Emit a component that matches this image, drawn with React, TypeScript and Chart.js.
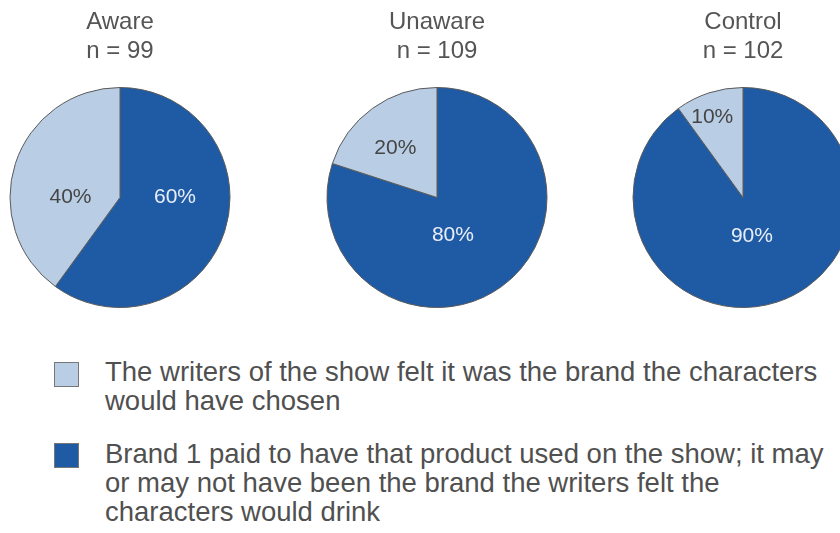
import React, { useEffect, useRef } from "react";
import { Chart, registerables } from "chart.js";

Chart.register(...registerables);

// ---- data ----
const groups = ["Aware", "Unaware", "Control"];
const sampleSizes = ["n = 99", "n = 109", "n = 102"];
// order: [paid placement (dark), writers' choice (light)]
const paidPct = [60, 80, 90];
const writersPct = [40, 20, 10];
const legendLabels = [
  ["The writers of the show felt it was the brand the characters", "would have chosen"],
  [
    "Brand 1 paid to have that product used on the show; it may",
    "or may not have been the brand the writers felt the",
    "characters would drink",
  ],
];

const DARK = "#1f5ba5";
const LIGHT = "#b9cee5";
const FONT = "'Liberation Sans', Arial, Helvetica, sans-serif";

// label placement (fraction of radius, angle shift in degrees) per chart: [dark, light]
const labelPlacement = [
  { frac: [0.5, 0.45], shift: [-18, -18] },
  { frac: [0.37, 0.59], shift: [13, -4] },
  { frac: [0.36, 0.78], shift: [5, -3] },
];

const pctLabelPlugin = {
  id: "pctLabels",
  afterDatasetsDraw(chart: any, _args: any, opts: any) {
    const ctx = chart.ctx;
    const meta = chart.getDatasetMeta(0);
    const ds = chart.data.datasets[0];
    ctx.save();
    ctx.font = `21px ${FONT}`;
    ctx.textAlign = "center";
    ctx.textBaseline = "middle";
    meta.data.forEach((arc: any, i: number) => {
      const { x, y, startAngle, endAngle, outerRadius } = arc.getProps(
        ["x", "y", "startAngle", "endAngle", "outerRadius"],
        true
      );
      const mid = (startAngle + endAngle) / 2 + (opts.shift[i] * Math.PI) / 180;
      const r = outerRadius * opts.frac[i];
      ctx.fillStyle = i === 0 ? "#e8eef8" : "#454545";
      ctx.fillText(ds.data[i] + "%", x + Math.cos(mid) * r, y + Math.sin(mid) * r);
    });
    ctx.restore();
  },
};

function PieBox({ idx, left }: { idx: number; left: number }) {
  const ref = useRef<HTMLCanvasElement>(null);
  useEffect(() => {
    const chart = new Chart(ref.current as HTMLCanvasElement, {
      type: "pie",
      data: {
        labels: ["Paid", "Writers"],
        datasets: [
          {
            data: [paidPct[idx], writersPct[idx]],
            backgroundColor: [DARK, LIGHT],
            borderColor: "#5a5a5a",
            borderWidth: 1,
          },
        ],
      },
      options: {
        responsive: false,
        animation: false,
        layout: { padding: 0 },
        plugins: {
          legend: { display: false },
          tooltip: { enabled: false },
          title: {
            display: true,
            text: [groups[idx], sampleSizes[idx]],
            color: "#555555",
            font: { family: FONT, size: 24, weight: "normal", lineHeight: 29 / 24 },
            padding: { top: 8, bottom: 21 },
          },
          pctLabels: labelPlacement[idx],
        } as any,
      },
      plugins: [pctLabelPlugin],
    });
    return () => chart.destroy();
  }, [idx]);
  return (
    <canvas
      ref={ref}
      width={240}
      height={308}
      style={{ position: "absolute", left, top: 0, width: 240, height: 308 }}
    />
  );
}

export default function App() {
  const lefts = [0, 317, 623];
  const swatch = (color: string) => ({
    position: "absolute" as const,
    left: 54,
    width: 23,
    height: 23,
    background: color,
    border: "1px solid #777",
  });
  const textStyle = {
    position: "absolute" as const,
    left: 105,
    fontFamily: FONT,
    fontSize: 27.5,
    lineHeight: "29px",
    color: "#505050",
    whiteSpace: "nowrap" as const,
  };
  return (
    <div
      style={{
        position: "absolute",
        left: 0,
        top: 0,
        width: 840,
        height: 533,
        overflow: "hidden",
        background: "#ffffff",
      }}
    >
      {groups.map((_, i) => (
        <PieBox key={i} idx={i} left={lefts[i]} />
      ))}
      <div style={{ ...swatch(LIGHT), top: 362 }} />
      <div style={{ ...textStyle, top: 357 }}>
        {legendLabels[0].map((l, i) => (
          <div key={i}>{l}</div>
        ))}
      </div>
      <div style={{ ...swatch(DARK), top: 443 }} />
      <div style={{ ...textStyle, top: 439 }}>
        {legendLabels[1].map((l, i) => (
          <div key={i}>{l}</div>
        ))}
      </div>
    </div>
  );
}
